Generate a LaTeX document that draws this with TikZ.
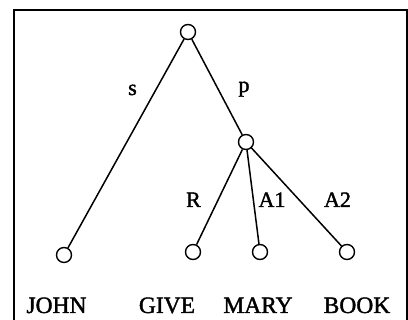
\documentclass[tikz,border=0pt]{standalone}
\usepackage{fontspec}
\setmainfont{Liberation Serif}
\newfontfamily\heavy{Liberation Serif}[FakeBold=1.6]
\begin{document}
\begin{tikzpicture}[x=1pt,y=-1pt,
  vtx/.style={circle,draw,line width=1.4pt,minimum size=15pt,inner sep=0pt,fill=white},
  edge/.style={line width=1.5pt},
  word/.style={font=\heavy\fontsize{23.5}{24}\selectfont,anchor=base,inner sep=0pt},
  lbl/.style={font=\heavy\fontsize{22}{22}\selectfont,anchor=base,inner sep=0pt}]
\useasboundingbox (0,0) rectangle (408,320);
\draw[line width=2pt] (14,322) -- (14,10.5) -- (406.5,10.5) -- (406.5,322);
\node[vtx] (root) at (188,32) {};
\node[vtx] (pn) at (246,142) {};
\node[vtx] (j) at (64,255) {};
\node[vtx] (g) at (193,252) {};
\node[vtx] (m) at (260,252) {};
\node[vtx] (b) at (347,252) {};
\draw[edge] (root) -- (j);
\draw[edge] (root) -- (pn);
\draw[edge] (pn) -- (g);
\draw[edge] (pn) -- (m);
\draw[edge] (pn) -- (b);
\node[lbl] (ls) at (132.5,95) {s};
\node[lbl] (lp) at (244,92) {p};
\node[lbl] (lr) at (193.5,207) {R};
\node[lbl] (la1) at (272,207) {A1};
\node[lbl] (la2) at (337.5,207) {A2};
\node[word] (wj) at (56.5,313) {JOHN};
\node[word] (wg) at (167,313) {GIVE};
\node[word] (wm) at (258,313) {MARY};
\node[word] (wb) at (357,313) {BOOK};
\end{tikzpicture}
\end{document}
